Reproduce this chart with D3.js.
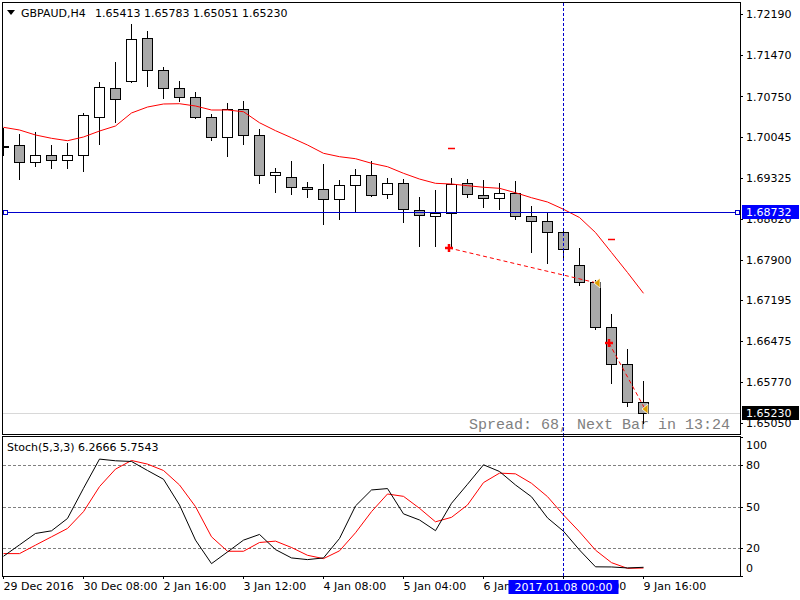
<!DOCTYPE html>
<meta charset="utf-8">
<style>
body { margin: 0; background: #fff; }
text { font-family: "DejaVu Sans", sans-serif; font-size: 11px; }
.axis path, .axis line { stroke: #000; shape-rendering: crispEdges; }
.axis text { fill: #000; font-family: "DejaVu Sans", sans-serif; font-size: 11px; }
.frame { fill: none; stroke: #000; shape-rendering: crispEdges; }
.wick { stroke: #000; shape-rendering: crispEdges; }
.body { stroke: #000; shape-rendering: crispEdges; }
.grid { stroke: #808080; stroke-dasharray: 3,2; shape-rendering: crispEdges; }
</style>
<body>
<script src="https://d3js.org/d3.v7.min.js"></script>
<script>

// ---- data (GBPAUD H4) ----
var opens  = [1.69886, 1.69903, 1.69606, 1.69728, 1.69641, 1.69728, 1.70392, 1.70898, 1.71020, 1.71771,
              1.71212, 1.70898, 1.70741, 1.70392, 1.70043, 1.70532, 1.70078, 1.69379, 1.69344, 1.69170,
              1.69135, 1.68960, 1.69205, 1.69379, 1.69048, 1.69240, 1.68768, 1.68672, 1.68716, 1.69240,
              1.69030, 1.68978, 1.69065, 1.68664, 1.68576, 1.68384, 1.67808, 1.67511, 1.66726, 1.66080,
              1.65413];
var highs  = [1.70200, 1.70095, 1.70130, 1.69903, 1.69938, 1.70462, 1.71003, 1.71352, 1.72015, 1.71893,
              1.71265, 1.71020, 1.70828, 1.70444, 1.70636, 1.70671, 1.70182, 1.69501, 1.69624, 1.69257,
              1.69571, 1.69292, 1.69484, 1.69624, 1.69327, 1.69309, 1.68995, 1.69117, 1.69327, 1.69309,
              1.69292, 1.69240, 1.69275, 1.68838, 1.68733, 1.68402, 1.68105, 1.67546, 1.66953, 1.66342,
              1.65783];
var lows   = [1.69728, 1.69309, 1.69536, 1.69501, 1.69501, 1.69449, 1.69921, 1.70305, 1.71003, 1.70933,
              1.70724, 1.70671, 1.70374, 1.69990, 1.69711, 1.69921, 1.69240, 1.69083, 1.69048, 1.68995,
              1.68524, 1.68611, 1.68733, 1.69013, 1.68978, 1.68559, 1.68140, 1.68140, 1.68105, 1.68995,
              1.68821, 1.68786, 1.68611, 1.68035, 1.67843, 1.67930, 1.67459, 1.66691, 1.65748, 1.65346,
              1.65051];
var closes = [1.69868, 1.69606, 1.69728, 1.69641, 1.69728, 1.70427, 1.70916, 1.70706, 1.71754, 1.71212,
              1.70898, 1.70741, 1.70392, 1.70043, 1.70532, 1.70078, 1.69379, 1.69432, 1.69170, 1.69135,
              1.68960, 1.69205, 1.69379, 1.69030, 1.69240, 1.68786, 1.68681, 1.68716, 1.69222, 1.69048,
              1.68978, 1.69065, 1.68664, 1.68576, 1.68384, 1.68087, 1.67511, 1.66726, 1.66080, 1.65417,
              1.65230];
// moving average (red line)
var maValues = [1.70212, 1.70165, 1.70078, 1.70020, 1.69978, 1.70043, 1.70147, 1.70235, 1.70462, 1.70566,
                1.70619, 1.70624, 1.70584, 1.70514, 1.70514, 1.70484, 1.70292, 1.70153, 1.70030, 1.69903,
                1.69758, 1.69699, 1.69664, 1.69584, 1.69524, 1.69409, 1.69309, 1.69234, 1.69222, 1.69193,
                1.69165, 1.69147, 1.69070, 1.68983, 1.68908, 1.68781, 1.68637, 1.68375, 1.68026, 1.67677,
                1.67314];
// Stoch(5,3,3) main and signal
var stochK = [14.2, 22.4, 30.6, 32.5, 41.4, 63.1, 84.1, 82.9, 82.4, 75.9,
              69.6, 51.1, 25.8, 8.9, 17.3, 25.8, 29.9, 19.0, 13.0, 11.8,
              13.0, 27.0, 50.4, 61.9, 62.9, 44.7, 40.3, 32.6, 52.3, 66.0,
              80.0, 75.2, 65.5, 57.0, 41.8, 32.2, 18.7, 6.6, 6.5, 5.8,
              6.2666];
var stochD = [16.1, 16.1, 22.2, 28.2, 34.2, 46.3, 64.3, 76.9, 83.1, 80.5,
              75.9, 65.5, 49.9, 28.2, 17.8, 17.8, 24.1, 25.1, 20.5, 14.9,
              12.5, 18.1, 31.1, 46.3, 59.0, 57.3, 48.7, 39.0, 42.2, 51.1,
              67.2, 74.0, 73.5, 66.7, 57.1, 43.9, 31.8, 18.6, 9.6, 5.5,
              5.7543];

var timeTickIdx = [0, 5, 10, 15, 20, 25, 30, 35, 40];
var timeTickLabels = ["29 Dec 2016", "30 Dec 08:00", "2 Jan 16:00", "3 Jan 12:00", "4 Jan 08:00",
                      "5 Jan 04:00", "6 Jan 00:00", "6 Jan 20:00", "9 Jan 16:00"];
var priceTicks = [1.72190, 1.71470, 1.70750, 1.70045, 1.69325, 1.68620, 1.67900, 1.67195, 1.66475, 1.65770, 1.65050];
var stochTicks = [0, 20, 50, 80, 100];
var stochLevels = [20, 50, 80];

// trades (open bar, open price, close bar, close price, stop)
var tradeOpenIdx = [28, 38];
var tradeOpenPrice = [1.68105, 1.66446];
var tradeCloseIdx = [37, 40];
var tradeClosePrice = [1.67494, 1.65294];
var tradeStop = [1.69851, 1.68257];

var hlinePrice = 1.68732;
var crossIdx = 35;
var crossLabel = "2017.01.08 00:00";

// ---- layout ----
var W = 800, H = 600;
var left = 3, right = 740;
var mainTop = 3, mainBottom = 434;
var subTop = 437, subBottom = 576;

var svg = d3.select("body").append("svg")
    .attr("width", W)
    .attr("height", H);

var n = closes.length;
var x = d3.scaleLinear().domain([0, n - 1]).range([3, 643]);
var y = d3.scaleLinear().domain([1.64858, 1.72382]).range([mainBottom, mainTop]);
var y2 = d3.scaleLinear().domain([0, 100]).range([subBottom, subTop]);

var defs = svg.append("defs");
defs.append("clipPath").attr("id", "clipMain")
  .append("rect").attr("x", left).attr("y", mainTop).attr("width", right - left).attr("height", mainBottom - mainTop);
defs.append("clipPath").attr("id", "clipSub")
  .append("rect").attr("x", left).attr("y", subTop).attr("width", right - left).attr("height", subBottom - subTop);

var main = svg.append("g").attr("clip-path", "url(#clipMain)");
var sub = svg.append("g").attr("clip-path", "url(#clipSub)");

var px = function(i) { return Math.round(x(i)) + 0.5; };
var py = function(p) { return Math.round(y(p)) + 0.5; };

// bid line (light gray) and horizontal line
main.append("line")
    .attr("x1", left).attr("x2", right)
    .attr("y1", py(closes[n - 1])).attr("y2", py(closes[n - 1]))
    .attr("stroke", "#d8d8d8");

// spread text
main.append("text")
    .attr("x", 730).attr("y", 429)
    .attr("text-anchor", "end")
    .style("font-family", "'Liberation Mono', monospace")
    .style("font-size", "15px")
    .attr("fill", "#808080")
    .text("Spread: 68, Next Bar in 13:24");

// candles
var idx = d3.range(n);
main.selectAll(".wick").data(idx).enter().append("line")
    .attr("class", "wick")
    .attr("x1", function(i) { return px(i); })
    .attr("x2", function(i) { return px(i); })
    .attr("y1", function(i) { return Math.round(y(highs[i])); })
    .attr("y2", function(i) { return Math.round(y(lows[i])) + 1; });

main.selectAll(".body").data(idx).enter().append("rect")
    .attr("class", "body")
    .attr("x", function(i) { return px(i) - 5; })
    .attr("width", 10)
    .attr("y", function(i) { return py(Math.max(opens[i], closes[i])); })
    .attr("height", function(i) {
        return Math.max(1, Math.round(y(Math.min(opens[i], closes[i]))) - Math.round(y(Math.max(opens[i], closes[i]))));
    })
    .attr("fill", function(i) { return closes[i] >= opens[i] ? "#ffffff" : "#a9a9a9"; });

// moving average
main.append("path")
    .datum(idx)
    .attr("fill", "none")
    .attr("stroke", "#ff0000")
    .attr("stroke-width", 1)
    .attr("d", d3.line().x(function(i) { return x(i) + 0.5; }).y(function(i) { return y(maValues[i]); }));

// horizontal line object
main.append("line")
    .attr("x1", left).attr("x2", right)
    .attr("y1", py(hlinePrice)).attr("y2", py(hlinePrice))
    .attr("stroke", "#0000cc")
    .attr("shape-rendering", "crispEdges");
[5.5, 737.5].forEach(function(cx) {
  main.append("rect")
      .attr("x", cx - 2).attr("y", py(hlinePrice) - 2)
      .attr("width", 4).attr("height", 4)
      .attr("fill", "#fff").attr("stroke", "#0000cc")
      .attr("shape-rendering", "crispEdges");
});

// trades
tradeOpenIdx.forEach(function(oi, t) {
  var x0 = x(oi) - 2, y0 = y(tradeOpenPrice[t]);
  var x1 = x(tradeCloseIdx[t]) + 2, y1 = y(tradeClosePrice[t]);
  main.append("line")
      .attr("x1", x0).attr("y1", y0).attr("x2", x1).attr("y2", y1)
      .attr("stroke", "#ff0000")
      .attr("stroke-dasharray", "4,3");
  // stop level dash
  main.append("line")
      .attr("x1", x(oi) - 3).attr("x2", x(oi) + 4)
      .attr("y1", py(tradeStop[t])).attr("y2", py(tradeStop[t]))
      .attr("stroke", "#ff0000")
      .attr("stroke-width", 1.5);
  // open marker (red cross/arrow)
  main.append("path")
      .attr("d", "M" + (x0 - 4) + "," + y0 + "H" + (x0 + 4) + "M" + x0 + "," + (y0 - 4) + "V" + (y0 + 4))
      .attr("stroke", "#ff0000")
      .attr("stroke-width", 2.5);
  // close marker (orange triangle)
  main.append("path")
      .attr("d", "M" + (x1 - 3) + "," + y1 + "L" + (x1 + 3) + "," + (y1 - 5) + "L" + (x1 + 3) + "," + (y1 + 5) + "Z")
      .attr("fill", "#e0a000")
      .attr("stroke", "#fff")
      .attr("stroke-width", 0.8);
});

// stochastic levels and lines
sub.selectAll(".grid").data(stochLevels).enter().append("line")
    .attr("class", "grid")
    .attr("x1", left).attr("x2", right)
    .attr("y1", function(d) { return Math.round(y2(d)) + 0.5; })
    .attr("y2", function(d) { return Math.round(y2(d)) + 0.5; });

sub.append("path")
    .datum(idx)
    .attr("fill", "none")
    .attr("stroke", "#ff0000")
    .attr("d", d3.line().x(function(i) { return x(i) + 0.5; }).y(function(i) { return y2(stochD[i]); }));
sub.append("path")
    .datum(idx)
    .attr("fill", "none")
    .attr("stroke", "#000000")
    .attr("d", d3.line().x(function(i) { return x(i) + 0.5; }).y(function(i) { return y2(stochK[i]); }));

// crosshair vertical
svg.append("line")
    .attr("x1", px(crossIdx)).attr("x2", px(crossIdx))
    .attr("y1", mainTop).attr("y2", subBottom)
    .attr("stroke", "#0000cc")
    .attr("stroke-dasharray", "3,2")
    .attr("shape-rendering", "crispEdges");

// frames
svg.append("rect").attr("class", "frame")
    .attr("x", 2.5).attr("y", 2.5).attr("width", right - 2).attr("height", mainBottom - 2);
svg.append("rect").attr("class", "frame")
    .attr("x", 2.5).attr("y", subTop - 0.5).attr("width", right - 2).attr("height", subBottom - subTop + 0.5);

// price axis
svg.append("g")
    .attr("class", "axis")
    .attr("transform", "translate(" + right + ",0)")
    .call(d3.axisRight(y).tickValues(priceTicks).tickFormat(d3.format(".5f")).tickSize(3).tickSizeOuter(0).tickPadding(3));

// stoch axis
var sAxis = svg.append("g")
    .attr("class", "axis")
    .attr("transform", "translate(" + right + ",0)")
    .call(d3.axisRight(y2).tickValues(stochTicks).tickSize(3).tickSizeOuter(0).tickPadding(3));
sAxis.selectAll(".tick text")
    .attr("dy", function(d) { return d === 100 ? "1.0em" : (d === 0 ? "-0.4em" : "0.32em"); });

// time axis
var tAxis = svg.append("g")
    .attr("class", "axis")
    .attr("transform", "translate(0," + subBottom + ")")
    .call(d3.axisBottom(x).tickValues(timeTickIdx).tickSize(3).tickSizeOuter(0)
          .tickFormat(function(d, i) { return timeTickLabels[i]; }));
tAxis.select(".domain").remove();
tAxis.selectAll(".tick text")
    .attr("text-anchor", "start")
    .attr("x", 0)
    .attr("y", 6);

// price tags on axis
function priceTag(p, bg) {
  var yy = Math.round(y(p));
  svg.append("rect")
      .attr("x", right + 2).attr("y", yy - 7)
      .attr("width", 57).attr("height", 14)
      .attr("fill", bg);
  svg.append("text")
      .attr("x", right + 6).attr("y", yy)
      .attr("dy", "0.35em")
      .attr("fill", "#fff")
      .text(d3.format(".5f")(p));
}
priceTag(hlinePrice, "#0000ff");
priceTag(closes[n - 1], "#000000");

// crosshair time tag
svg.append("rect")
    .attr("x", px(crossIdx) - 55).attr("y", 580)
    .attr("width", 110).attr("height", 14)
    .attr("fill", "#0000ff");
svg.append("text")
    .attr("x", px(crossIdx)).attr("y", 591)
    .attr("text-anchor", "middle")
    .attr("fill", "#fff")
    .text(crossLabel);

// titles
svg.append("path")
    .attr("d", "M7,10H15L11,15Z")
    .attr("fill", "#000");
svg.append("text").attr("x", 21).attr("y", 17).text("GBPAUD,H4");
svg.append("text").attr("x", 95).attr("y", 17)
    .text([opens[n - 1], highs[n - 1], lows[n - 1], closes[n - 1]].map(d3.format(".5f")).join(" "));
svg.append("text").attr("x", 7).attr("y", 451)
    .text("Stoch(5,3,3) " + d3.format(".4f")(stochK[n - 1]) + " " + d3.format(".4f")(stochD[n - 1]));

</script>
</body>
